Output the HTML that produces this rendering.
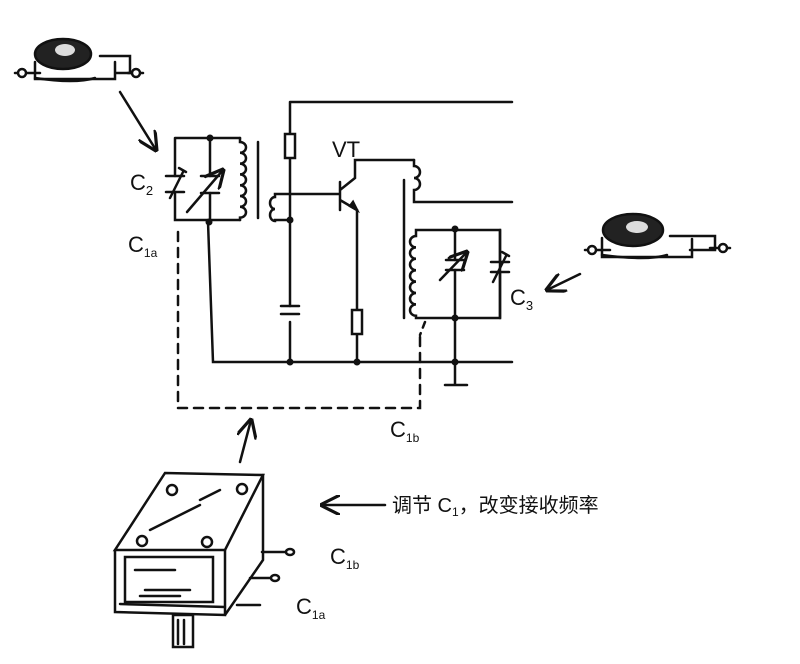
<!DOCTYPE html>
<html><head><meta charset="utf-8"><style>body{margin:0;background:#fff}svg{display:block}text{font-family:"Liberation Sans","Noto Sans CJK SC",sans-serif;fill:#111}</style></head><body>
<svg width="800" height="664" viewBox="0 0 800 664" xmlns="http://www.w3.org/2000/svg">
<defs><marker id="ah" viewBox="0 0 10 10" refX="9" refY="5" markerWidth="8" markerHeight="8" orient="auto"><path d="M0,0 L10,5 L0,10" fill="none" stroke="#111" stroke-width="1.6"/></marker></defs>
<g stroke="#111" stroke-width="2.5" fill="none" stroke-linecap="round">
<g>
<path d="M15,73 h25 M128,73 h15"/>
<circle cx="22" cy="73" r="4" fill="#fff"/><circle cx="136" cy="73" r="4" fill="#fff"/>
<path d="M35,62 v17 h80 v-17 M100,56 h30 v17 h-15"/>
<path d="M35,78 q40,6 60,0"/>
<ellipse cx="63" cy="54" rx="28" ry="15" fill="#222"/>
<ellipse cx="65" cy="50" rx="10" ry="6" fill="#ddd" stroke="none"/>
</g>
<g>
<path d="M585,250 h25 M710,248 h20"/>
<circle cx="592" cy="250" r="4" fill="#fff"/><circle cx="723" cy="248" r="4" fill="#fff"/>
<path d="M602,238 v19 h90 v-18 M670,236 h45 v14 h-25"/>
<path d="M602,255 q45,6 65,0"/>
<ellipse cx="633" cy="230" rx="30" ry="16" fill="#222"/>
<ellipse cx="637" cy="227" rx="11" ry="6" fill="#ddd" stroke="none"/>
</g>
<path d="M120,92 L156,150" marker-end="url(#ah)"/>
<path d="M580,274 L547,290" marker-end="url(#ah)"/>
<path d="M240,462 L251,420" marker-end="url(#ah)"/>
<path d="M385,505 L322,505" marker-end="url(#ah)"/>
<path d="M290,102 H512 M290,102 V306 M290,322 V362"/>
<rect x="285" y="134" width="10" height="24" fill="#fff"/>
<path d="M175,138 H240 M175,138 V176 M175,192 V220 H240 M210,138 V176 M210,193 V222 M208,222 L213,362 H512"/>
<path d="M240,138 V142 a6,5.4 0 0 1 0,10.8 a6,5.4 0 0 1 0,10.8 a6,5.4 0 0 1 0,10.8 a6,5.4 0 0 1 0,10.8 a6,5.4 0 0 1 0,10.8 a6,5.4 0 0 1 0,10.8 a6,5.4 0 0 1 0,10.8 V220"/>
<path d="M258,142 V218"/>
<path d="M290,194 H275 V197 a5,6 0 0 0 0,12 a5,6 0 0 0 0,12 V220 H290"/>
<path d="M290,194 H340 M340,182 V210 M340,190 L355,178 V160 H414 M340,200 L357,210 V362"/>
<path d="M350,206 L357,210 L353,202 Z" fill="#111"/>
<path d="M414,160 V166 a6,6 0 0 1 0,12 a6,6 0 0 1 0,12 V202 H512"/>
<path d="M404,180 V318"/>
<path d="M281,306 h18 M281,314 h18"/>
<rect x="352" y="310" width="10" height="24" fill="#fff"/>
<path d="M420,230 H500 V318 H420 M420,230 H416 V236 a6,5.7 0 0 0 0,11.4 a6,5.7 0 0 0 0,11.4 a6,5.7 0 0 0 0,11.4 a6,5.7 0 0 0 0,11.4 a6,5.7 0 0 0 0,11.4 a6,5.7 0 0 0 0,11.4 a6,5.7 0 0 0 0,11.4 V318 H420"/>
<path d="M455,228 V260 M455,270 V385 M445,385 H467"/>
<path d="M446,260 h18 M446,270 h18"/>
<path d="M440,280 L467,252" marker-end="url(#ah)"/>
<path d="M500,230 V262 M500,272 V318 M491,262 h18 M491,272 h18"/>
<path d="M493,282 L506,256 M502,252 l7,4"/>
<path d="M166,176 h18 M166,192 h18 M201,176 h18 M201,193 h18"/>
<path d="M170,198 L183,172 M179,168 l7,4"/>
<path d="M187,212 L223,170" marker-end="url(#ah)"/>
<path d="M178,232 V408 H420 V335" stroke-dasharray="9,7"/>
<path d="M425,322 L420,335" stroke-dasharray="6,6"/>
<path d="M165,473 L263,475 L225,550 L115,550 Z"/>
<path d="M115,550 V612 L225,615 V550 M263,475 V560 L225,615"/>
<path d="M120,604 L225,607"/>
<rect x="125" y="557" width="88" height="45"/>
<path d="M135,570 h40 M145,590 h45 M140,596 h40 M150,530 l50,-25 M200,500 l20,-10"/>
<rect x="173" y="615" width="20" height="32" fill="#fff"/>
<path d="M178,620 v24 M184,620 v24"/>
<circle cx="172" cy="490" r="5"/><circle cx="242" cy="489" r="5"/><circle cx="142" cy="541" r="5"/><circle cx="207" cy="542" r="5"/>
<path d="M262,552 H290 M250,578 H275 M237,605 H260"/>
<ellipse cx="290" cy="552" rx="4" ry="3" fill="#fff"/><ellipse cx="275" cy="578" rx="4" ry="3" fill="#fff"/>
</g>
<g fill="#111">
<circle cx="210" cy="138" r="3.5"/><circle cx="209" cy="222" r="3.5"/><circle cx="290" cy="220" r="3.5"/>
<circle cx="290" cy="362" r="3.5"/><circle cx="357" cy="362" r="3.5"/><circle cx="455" cy="229" r="3.5"/>
<circle cx="455" cy="318" r="3.5"/><circle cx="455" cy="362" r="3.5"/>
</g>
<g font-size="22">
<text x="332" y="157">VT</text>
<text x="130" y="190">C<tspan font-size="13" dy="5">2</tspan></text>
<text x="128" y="252">C<tspan font-size="12" dy="5">1a</tspan></text>
<text x="510" y="305">C<tspan font-size="13" dy="5">3</tspan></text>
<text x="390" y="437">C<tspan font-size="12" dy="5">1b</tspan></text>
<text x="330" y="564">C<tspan font-size="12" dy="5">1b</tspan></text>
<text x="296" y="614">C<tspan font-size="12" dy="5">1a</tspan></text>
<text x="392" y="512" font-size="20">调节 C<tspan font-size="12" dy="4">1</tspan><tspan dy="-4">，改变接收频率</tspan></text>
</g>
</svg>
</body></html>
